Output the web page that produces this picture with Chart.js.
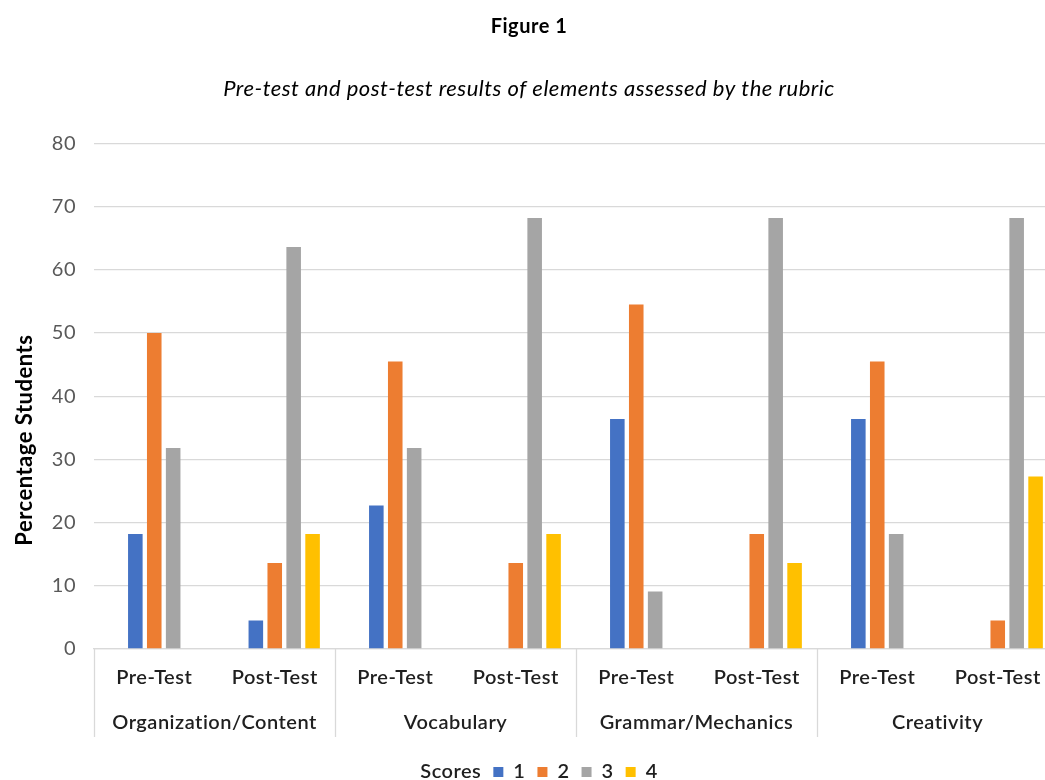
<!DOCTYPE html>
<html>
<head>
<meta charset="utf-8">
<script src="https://cdn.jsdelivr.net/npm/chart.js@4/dist/chart.umd.min.js"></script>
<style>
  html, body { margin: 0; padding: 0; background: #fff; overflow: hidden; }
  #wrap { width: 1062px; height: 780px; }
</style>
</head>
<body>
<div id="wrap"><canvas id="chart" width="1062" height="780"></canvas></div>
<script>
// Rubric elements (outer axis) and test phases (inner axis)
const elements = ['Organization/Content', 'Vocabulary', 'Grammar/Mechanics', 'Creativity'];
const phases = ['Pre-Test', 'Post-Test'];
const categories = ['Pre-Test', 'Post-Test', 'Pre-Test', 'Post-Test', 'Pre-Test', 'Post-Test', 'Pre-Test', 'Post-Test'];

// Percentage of students at each score, per element and phase
const score1 = [18.2, 4.5, 22.7, 0, 36.4, 0, 36.4, 0];
const score2 = [50.0, 13.6, 45.5, 13.6, 54.5, 18.2, 45.5, 4.5];
const score3 = [31.8, 63.6, 31.8, 68.2, 9.1, 68.2, 18.2, 68.2];
const score4 = [0, 18.2, 0, 18.2, 0, 13.6, 0, 27.3];

const yTicks = [0, 10, 20, 30, 40, 50, 60, 70, 80];
const yTitle = 'Percentage Students';
const legendTitle = 'Scores';

const FONT = 'Lato, "Open Sans", sans-serif';
const GRID = '#d9d9d9';
const TEXT = '#1f1f1f';
const LABEL_BAND = 44; // height of each category label row

// Slightly open tracking for all canvas text
const tracking = {
  id: 'tracking',
  beforeUpdate(chart) { chart.ctx.letterSpacing = '0.5px'; },
  beforeDraw(chart) { chart.ctx.letterSpacing = '0.5px'; }
};

// Separators between rubric elements and the rotated value-axis title
const decorations = {
  id: 'decorations',
  afterDraw(chart) {
    const { ctx } = chart;
    const xs = chart.scales.x, x2 = chart.scales.x2;
    const groupW = xs.width / elements.length;
    const bottom = x2.top + LABEL_BAND;
    ctx.save();
    ctx.strokeStyle = GRID;
    ctx.lineWidth = 1.3;
    for (let i = 0; i <= elements.length; i++) {
      const px = Math.round(xs.left + i * groupW) + 0.5;
      ctx.beginPath();
      ctx.moveTo(px, xs.top);
      ctx.lineTo(px, bottom);
      ctx.stroke();
    }
    ctx.translate(25, (chart.chartArea.top + bottom) / 2);
    ctx.rotate(-Math.PI / 2);
    ctx.fillStyle = '#000';
    ctx.font = 'bold 22px ' + FONT;
    ctx.textAlign = 'center';
    ctx.textBaseline = 'middle';
    ctx.fillText(yTitle, 0, 0);
    ctx.restore();
  }
};

const colors = ['#4472C4', '#ED7D31', '#A5A5A5', '#FFC000'];
const series = [score1, score2, score3, score4];

new Chart(document.getElementById('chart'), {
  type: 'bar',
  data: {
    labels: categories,
    datasets: [
      // empty leading slot: carries the legend caption
      { label: legendTitle, data: [], backgroundColor: 'rgba(0,0,0,0)' },
      ...series.map((d, i) => ({
        label: String(i + 1),
        data: d,
        backgroundColor: colors[i],
        borderWidth: 0
      }))
    ]
  },
  options: {
    responsive: false,
    animation: false,
    layout: { padding: { left: 0, right: 4, top: 0, bottom: -12 } },
    datasets: { bar: { categoryPercentage: 0.785, barPercentage: 0.77 } },
    plugins: {
      title: {
        display: true,
        text: 'Figure 1',
        color: '#000',
        font: { family: FONT, size: 20, weight: 'bold' },
        padding: { top: 15, bottom: 0 }
      },
      subtitle: {
        display: true,
        text: 'Pre-test and post-test results of elements assessed by the rubric',
        color: '#000',
        font: { family: FONT, size: 22, style: 'italic' },
        padding: { top: 37, bottom: 41 }
      },
      legend: {
        position: 'bottom',
        labels: {
          color: TEXT,
          font: { family: FONT, size: 20, weight: 600 },
          boxWidth: 10,
          boxHeight: 10,
          padding: 12,
          generateLabels(chart) {
            const items = Chart.defaults.plugins.legend.labels.generateLabels(chart);
            items[0].fillStyle = 'rgba(0,0,0,0)';
            items[0].strokeStyle = 'rgba(0,0,0,0)';
            items[0].lineWidth = 0;
            return items;
          }
        },
        onClick: null
      },
      tooltip: { enabled: false }
    },
    scales: {
      x: {
        type: 'category',
        grid: { display: false },
        border: { display: true, color: GRID, width: 1.3 },
        ticks: {
          color: TEXT,
          font: { family: FONT, size: 20, weight: 600 },
          padding: 9,
          maxRotation: 0,
          autoSkip: false
        },
        afterFit(s) { s.height = LABEL_BAND; }
      },
      x2: {
        type: 'category',
        labels: elements,
        position: 'bottom',
        offset: true,
        grid: { display: false },
        border: { display: false },
        ticks: {
          color: TEXT,
          font: { family: FONT, size: 20, weight: 600 },
          padding: 10,
          maxRotation: 0,
          autoSkip: false
        },
        afterFit(s) { s.height = LABEL_BAND + 13; }
      },
      y: {
        min: yTicks[0],
        max: yTicks[yTicks.length - 1],
        afterBuildTicks(s) { s.ticks = yTicks.map(v => ({ value: v })); },
        grid: { color: GRID, lineWidth: 1.3, drawTicks: false },
        border: { display: false },
        ticks: {
          color: '#595959',
          font: { family: FONT, size: 20 },
          padding: 18
        },
        afterFit(s) { s.width = 94; }
      }
    }
  },
  plugins: [tracking, decorations]
});
</script>
</body>
</html>
